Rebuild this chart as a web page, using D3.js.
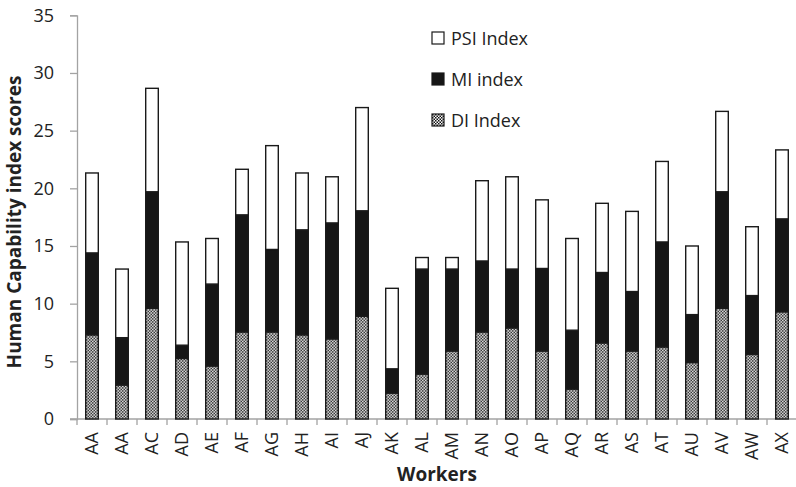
<!DOCTYPE html>
<html>
<head>
<meta charset="utf-8">
<script src="https://cdn.jsdelivr.net/npm/d3@7"></script>
<style>
  body { margin: 0; background: #fff; }
  text { font-family: "Open Sans", "DejaVu Sans", sans-serif; fill: #222; }
</style>
</head>
<body>
<div id="chart"></div>
<script>
// categories (the second worker is labelled "AA" in the source too)
var workers = ["AA", "AA", "AC", "AD", "AE", "AF", "AG", "AH", "AI", "AJ", "AK", "AL",
    "AM", "AN", "AO", "AP", "AQ", "AR", "AS", "AT", "AU", "AV", "AW", "AX"];

// stacked components, bottom to top
var diIndex = [7.3, 2.95, 9.6, 5.25, 4.6, 7.55, 7.55, 7.3, 6.95, 8.9, 2.25, 3.9,
    5.9, 7.55, 7.9, 5.9, 2.6, 6.6, 5.9, 6.25, 4.9, 9.6, 5.6, 9.3];
var miIndex = [7.1, 4.1, 10.1, 1.15, 7.1, 10.15, 7.15, 9.1, 10.05, 9.15, 2.1, 9.1,
    7.1, 6.15, 5.1, 7.15, 5.1, 6.1, 5.15, 9.1, 4.15, 10.1, 5.1, 8.05];
var psiIndex = [6.93, 5.95, 8.97, 8.95, 3.95, 3.95, 9.0, 4.93, 4.0, 8.95, 6.98, 1.0,
    1.0, 6.96, 8.0, 5.95, 7.95, 6.0, 6.95, 6.98, 5.95, 6.97, 5.97, 5.98];

var seriesNames = ["DI Index", "MI index", "PSI Index"];
var yTicks = [0, 5, 10, 15, 20, 25, 30, 35];

// set the dimensions and margins of the graph
var totalWidth = 796, totalHeight = 487;
var margin = { top: 15.3, right: -1, bottom: 68, left: 77 },
    width = totalWidth - margin.left - margin.right,
    height = totalHeight - margin.top - margin.bottom;

var svg = d3.select("#chart")
    .append("svg")
    .attr("width", totalWidth)
    .attr("height", totalHeight);

// checker pattern for the DI segments
var defs = svg.append("defs");
var pat = defs.append("pattern")
    .attr("id", "checker")
    .attr("patternUnits", "userSpaceOnUse")
    .attr("width", 3)
    .attr("height", 3);
pat.append("rect").attr("width", 3).attr("height", 3).attr("fill", "#fff");
pat.append("rect").attr("x", 0).attr("y", 0).attr("width", 1.5).attr("height", 1.5).attr("fill", "#111");
pat.append("rect").attr("x", 1.5).attr("y", 1.5).attr("width", 1.5).attr("height", 1.5).attr("fill", "#111");

var fills = ["url(#checker)", "#161616", "#ffffff"];

var g = svg.append("g")
    .attr("transform", "translate(" + margin.left + "," + margin.top + ")");

// build the stacked table
var table = workers.map(function (w, i) {
    return { idx: i, "DI Index": diIndex[i], "MI index": miIndex[i], "PSI Index": psiIndex[i] };
});
var stacked = d3.stack().keys(seriesNames)(table);

// scales
var x = d3.scaleBand()
    .domain(d3.range(workers.length))
    .range([0, width])
    .paddingInner(0.58)
    .paddingOuter(0.29);

var y = d3.scaleLinear()
    .domain([0, 35])
    .range([height, 0]);

// Y axis
var yAxis = g.append("g")
    .call(d3.axisLeft(y).tickValues(yTicks).tickSize(7).tickPadding(16));
yAxis.selectAll("path, line").attr("stroke", "#a3a3a3").attr("stroke-width", 1.3);
yAxis.selectAll("text")
    .style("font-size", "18px")
    .attr("fill", "#222");

// X axis: line plus ticks at category boundaries
var xAxis = g.append("g")
    .attr("transform", "translate(0," + height + ")")
    .call(d3.axisBottom(x).tickSize(0).tickFormat(function (i) { return workers[i]; }));
xAxis.select("path").attr("stroke", "#a3a3a3").attr("stroke-width", 1.3)
    .attr("d", "M-7,0H" + width);
xAxis.selectAll("text")
    .style("font-size", "18px")
    .attr("fill", "#222")
    .attr("text-anchor", "end")
    .attr("transform", "translate(0,13)rotate(-90)")
    .attr("x", 0)
    .attr("y", 0)
    .attr("dy", "0.35em");

var step = x.step();
xAxis.selectAll("line.boundary")
    .data(d3.range(workers.length + 1))
    .enter()
    .append("line")
    .attr("class", "boundary")
    .attr("x1", function (i) { return i < workers.length ? x(i) - (step - x.bandwidth()) / 2 : width; })
    .attr("x2", function (i) { return i < workers.length ? x(i) - (step - x.bandwidth()) / 2 : width; })
    .attr("y1", 0)
    .attr("y2", 6)
    .attr("stroke", "#a3a3a3")
    .attr("stroke-width", 1.3);

// bars
var layers = g.selectAll("g.layer")
    .data(stacked)
    .enter()
    .append("g")
    .attr("class", "layer")
    .attr("fill", function (d, i) { return fills[i]; });

layers.selectAll("rect")
    .data(function (d) { return d; })
    .enter()
    .append("rect")
    .attr("x", function (d) { return x(d.data.idx); })
    .attr("y", function (d) { return y(d[1]); })
    .attr("width", x.bandwidth())
    .attr("height", function (d) { return y(d[0]) - y(d[1]); })
    .attr("stroke", "#1a1a1a")
    .attr("stroke-width", 1.4);

// axis titles
svg.append("text")
    .attr("x", margin.left + width / 2)
    .attr("y", 481)
    .attr("text-anchor", "middle")
    .style("font-size", "19px")
    .style("font-weight", "bold")
    .text("Workers");

svg.append("text")
    .attr("transform", "translate(21,222)rotate(-90)")
    .attr("text-anchor", "middle")
    .style("font-size", "19px")
    .style("font-weight", "bold")
    .text("Human Capability index scores");

// legend, top item is PSI
var legendItems = seriesNames.slice().reverse();
var legendFills = fills.slice().reverse();
var legend = svg.append("g")
    .attr("transform", "translate(432,32)");

var item = legend.selectAll("g")
    .data(legendItems)
    .enter()
    .append("g")
    .attr("transform", function (d, i) { return "translate(0," + (i * 41) + ")"; });

item.append("rect")
    .attr("width", 12)
    .attr("height", 12)
    .attr("fill", function (d, i) { return legendFills[i]; })
    .attr("stroke", "#1a1a1a")
    .attr("stroke-width", 1.2);

item.append("text")
    .attr("x", 19)
    .attr("y", 13)
    .style("font-size", "18px")
    .text(function (d) { return d; });
</script>
</body>
</html>
